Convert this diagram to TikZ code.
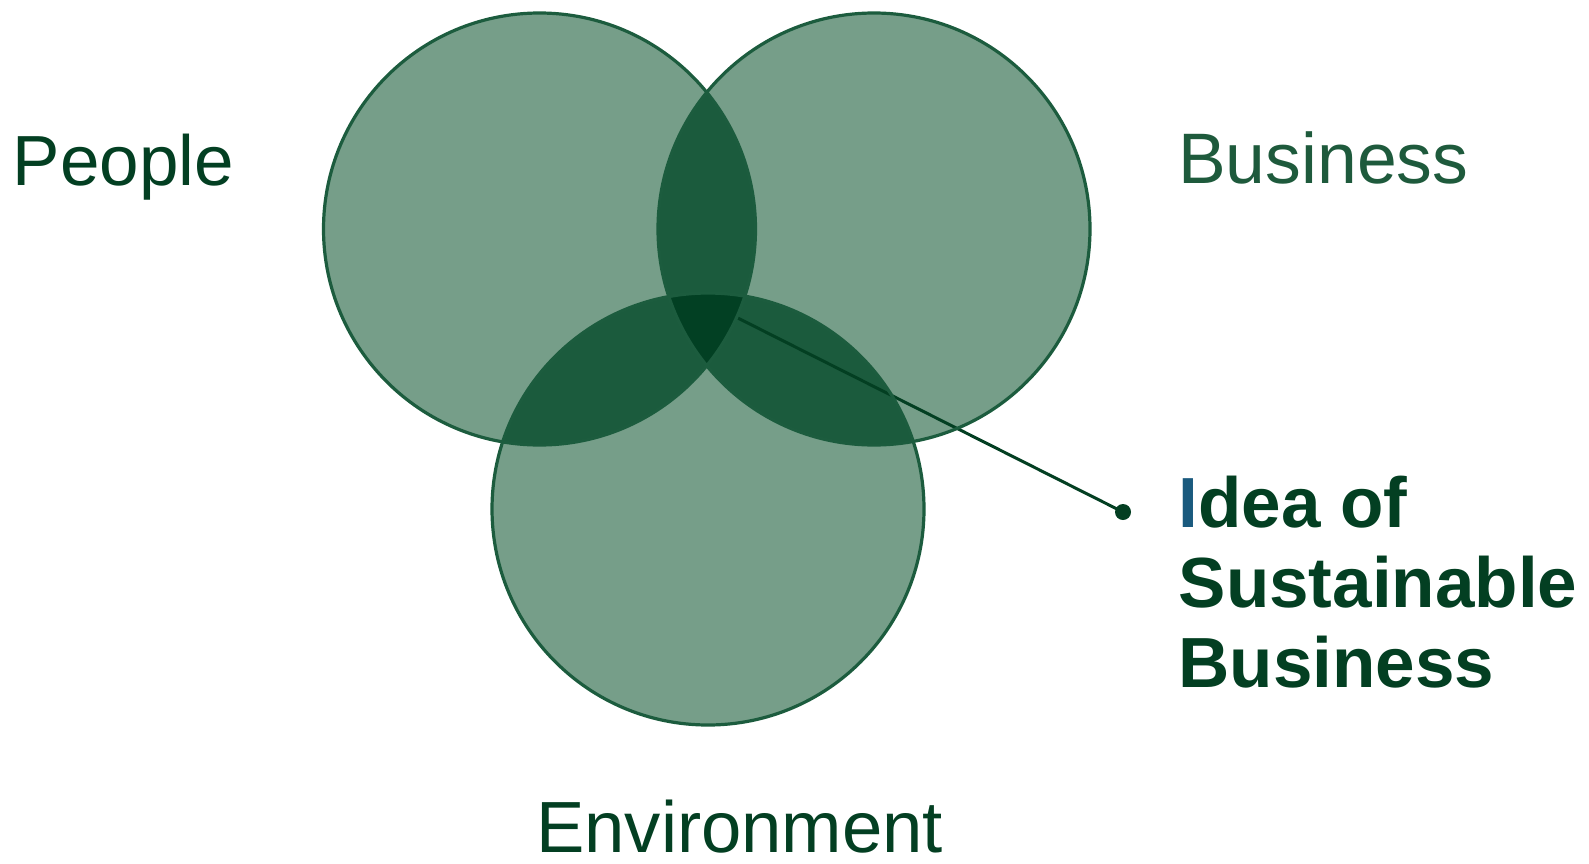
\documentclass[tikz,border=0pt]{standalone}
\usepackage{fontspec}
\setmainfont{Liberation Sans}
\definecolor{lightg}{HTML}{769E89}
\definecolor{pairg}{HTML}{1B5B3D}
\definecolor{tripg}{HTML}{024023}
\definecolor{edgeg}{HTML}{1C5C3E}
\definecolor{txtdark}{HTML}{033F22}
\definecolor{txtmid}{HTML}{1E5A3C}
\definecolor{ideablue}{HTML}{1A5A7E}
\begin{document}
\begin{tikzpicture}[x=1pt,y=-1pt,
  label/.style={inner sep=0pt,anchor=base west,font=\fontsize{71}{80}\selectfont},
  edge/.style={draw=edgeg,line width=3.2pt}]
\useasboundingbox (0,0) rectangle (1589,863);
\def\cL{(539.5,229) circle (216)}
\def\cR{(874,229) circle (216)}
\def\cB{(708,509) circle (216)}
% single fills
\fill[lightg] \cL;
\fill[lightg] \cR;
\fill[lightg] \cB;
% pairwise
\begin{scope}\clip \cL; \fill[pairg] \cR; \end{scope}
\begin{scope}\clip \cL; \fill[pairg] \cB; \end{scope}
\begin{scope}\clip \cR; \fill[pairg] \cB; \end{scope}
% connector
\coordinate (core) at (712,305);
\node[circle,fill=txtdark,inner sep=0pt,minimum size=16pt] (dot) at (1123,512) {};
\draw[txtdark,line width=3pt] (core) -- (dot.center);
% triple
\begin{scope}\clip \cL; \clip \cR; \fill[tripg] \cB; \end{scope}
% outlines
\draw[edge] \cL;
\draw[edge] \cR;
\draw[edge] \cB;
% labels
\node[label,text=txtdark] (people) at (12.5,185) {People};
\node[label,text=txtmid,font=\fontsize{71.5}{80}\selectfont] (business) at (1178,183) {Business};
\node[label,text=txtdark,font=\fontsize{72.5}{80}\selectfont] (env) at (536,852) {Environment};
\node[label,text=txtdark,align=left,font=\fontsize{71}{80}\selectfont\bfseries] (idea) at (1178.5,687) {{\color{ideablue}I}dea of\\Sustainable\\Business};
\end{tikzpicture}
\end{document}
